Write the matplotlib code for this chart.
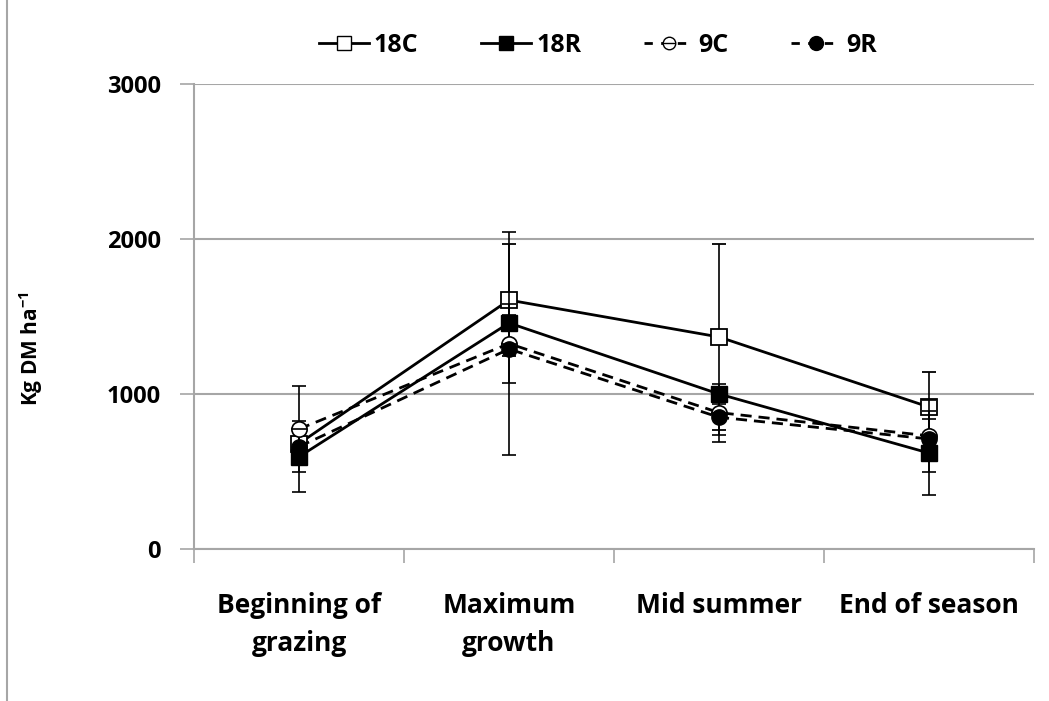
import matplotlib
matplotlib.use('Agg')
import matplotlib.pyplot as plt
from matplotlib.lines import Line2D
import numpy as np

plt.rcParams['font.family'] = ['Open Sans', 'DejaVu Sans']
plt.rcParams['font.weight'] = 'bold'
plt.rcParams['mathtext.fontset'] = 'custom'
plt.rcParams['mathtext.bf'] = 'Open Sans:bold'
plt.rcParams['mathtext.rm'] = 'Open Sans:bold'

# ---- data ----
categories = ['Beginning of\ngrazing', 'Maximum\ngrowth', 'Mid summer', 'End of season']
c18 = [680, 1606, 1368, 916]
c18_err = [100, 362, 600, 225]
r18 = [595, 1458, 1000, 619]
r18_err = [230, 120, 65, 270]
c9 = [774, 1325, 880, 730]
c9_err = [280, 720, 145, 230]
r9 = [660, 1290, 850, 710]
r9_err = [100, 220, 160, 130]

x = np.arange(len(categories))

fig = plt.figure(figsize=(10.49, 7.01), dpi=100)
ax = fig.add_axes([194 / 1049, 1 - 549 / 701, 840 / 1049, 465 / 701])

grid_col = '#a6a6a6'
lw = 2.0
ms = 11
ekw = dict(ecolor='black', elinewidth=1.2, capsize=5, capthick=1.2)

# 18C  open squares, solid
ax.errorbar(x, c18, yerr=c18_err, color='black', lw=lw, marker='s', ms=ms,
            mfc='white', mec='black', mew=1.3, zorder=3, **ekw)
# 18R  filled squares, solid
ax.errorbar(x, r18, yerr=r18_err, color='black', lw=lw, marker='s', ms=ms,
            mfc='black', mec='black', zorder=4, **ekw)
# 9C  open circle with bar, dashed
ax.errorbar(x, c9, yerr=c9_err, color='black', lw=lw, ls=(0, (4, 2.5)), marker='o',
            ms=ms, mfc='white', mec='black', mew=1.2, zorder=5, **ekw)
ax.plot(x, c9, ls='none', marker='_', ms=ms, mec='black', mew=1.2, zorder=6)
# 9R  filled circles, dashed
ax.errorbar(x, r9, yerr=r9_err, color='black', lw=lw, ls=(0, (4, 2.5)), marker='o',
            ms=ms, mfc='black', mec='black', zorder=5, **ekw)

ax.set_xlim(-0.5, len(categories) - 0.5)
ax.set_ylim(0, 3000)
ax.set_yticks([0, 1000, 2000, 3000])
ax.yaxis.grid(True, color=grid_col, lw=1.5)
ax.set_axisbelow(True)

for s in ['top', 'right']:
    ax.spines[s].set_visible(False)
for s in ['left', 'bottom']:
    ax.spines[s].set_color(grid_col)
    ax.spines[s].set_linewidth(1.5)

ax.tick_params(axis='y', direction='out', length=10, color=grid_col, width=1.2,
               labelsize=17, pad=14)
ax.set_xticks(x)
ax.set_xticklabels(categories, fontsize=19, fontweight='bold', linespacing=1.5)
ax.tick_params(axis='x', length=0, pad=31)
for lab in ax.get_xticklabels():
    lab.set_verticalalignment('top')
ax.set_xticks(np.arange(-0.5, len(categories), 1.0), minor=True)
ax.tick_params(axis='x', which='minor', direction='out', length=10, color=grid_col, width=1.2)

ax.set_ylabel(r'Kg DM ha$^{\mathbf{-1}}$', fontsize=15, fontweight='bold')
ax.yaxis.set_label_coords(-0.177, 0.43)

# legend
h18c = Line2D([], [], color='black', lw=lw, marker='s', ms=10, mfc='white', mec='black')
h18r = Line2D([], [], color='black', lw=lw, marker='s', ms=10, mfc='black', mec='black')
h9c_a = Line2D([], [], color='black', lw=lw, ls=(0, (3, 3)), marker='o', ms=9,
               mfc='white', mec='black', mew=1.0)
h9c_b = Line2D([], [], ls='none', marker='_', ms=9, mec='black', mew=1.0)
h9r = Line2D([], [], color='black', lw=lw, ls=(0, (3, 3)), marker='o', ms=10,
             mfc='black', mec='black')
ax.legend([h18c, h18r, (h9c_a, h9c_b), h9r], ['18C', '18R', '9C', '9R'],
          loc='center', bbox_to_anchor=(0.481, 1.083), ncol=4, frameon=False,
          prop=dict(size=18, weight='bold'), handlelength=2.0, handletextpad=0.2,
          columnspacing=2.5)

# left border of the chart area
fig.add_artist(Line2D([7 / 1049, 7 / 1049], [0, 1], color=grid_col, lw=1.5))

fig.savefig('out.png', dpi=100)
